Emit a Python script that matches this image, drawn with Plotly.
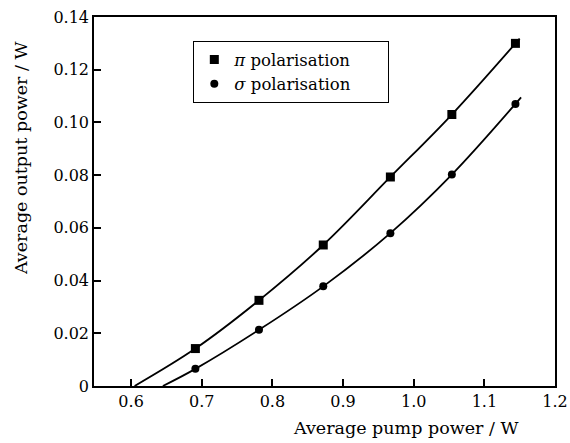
import plotly.graph_objects as go

# measured points
pump_pi = [0.691, 0.781, 0.872, 0.967, 1.054, 1.144]
out_pi = [0.0142, 0.0325, 0.0535, 0.0793, 0.1030, 0.1300]
pump_sigma = [0.691, 0.781, 0.872, 0.967, 1.054, 1.144]
out_sigma = [0.0065, 0.0213, 0.0378, 0.0580, 0.0802, 0.1070]

# fitted curves
fit_pi_x = [0.605, 0.691, 0.781, 0.872, 0.967, 1.054, 1.150]
fit_pi_y = [0.0, 0.0142, 0.0325, 0.0535, 0.0793, 0.1030, 0.1318]
fit_sigma_x = [0.645, 0.691, 0.781, 0.872, 0.967, 1.054, 1.152]
fit_sigma_y = [0.0, 0.0065, 0.0213, 0.0378, 0.0580, 0.0802, 0.1095]

x_ticks = [0.6, 0.7, 0.8, 0.9, 1.0, 1.1, 1.2]
x_labels = ["0.6", "0.7", "0.8", "0.9", "1.0", "1.1", "1.2"]
y_ticks = [0, 0.02, 0.04, 0.06, 0.08, 0.10, 0.12, 0.14]
y_labels = ["0", "0.02", "0.04", "0.06", "0.08", "0.10", "0.12", "0.14"]

series_names = ["<i>π</i> polarisation", "<i>σ</i> polarisation"]
PAD = "\u00a0" * 6

FONT = "DejaVu Serif, serif"

fig = go.Figure()
fig.add_trace(go.Scatter(x=fit_pi_x, y=fit_pi_y, mode="lines", line=dict(color="black", width=1.8, shape="spline"),
                         showlegend=False, hoverinfo="skip"))
fig.add_trace(go.Scatter(x=fit_sigma_x, y=fit_sigma_y, mode="lines", line=dict(color="black", width=1.8, shape="spline"),
                         showlegend=False, hoverinfo="skip"))
fig.add_trace(go.Scatter(x=pump_pi, y=out_pi, mode="markers", name=series_names[0] + PAD,
                         marker=dict(symbol="square", size=9, color="black")))
fig.add_trace(go.Scatter(x=pump_sigma, y=out_sigma, mode="markers", name=series_names[1] + PAD,
                         marker=dict(symbol="circle", size=8, color="black")))

fig.update_layout(
    width=570, height=443,
    margin=dict(l=94, r=15, t=17, b=57, autoexpand=False),
    paper_bgcolor="white", plot_bgcolor="white",
    font=dict(family=FONT, size=16, color="black"),
    legend=dict(x=0.215, y=0.935, xanchor="left", yanchor="top",
                bordercolor="black", borderwidth=1.2, bgcolor="white",
                font=dict(family=FONT, size=16.5), itemwidth=30, tracegroupgap=0),
    xaxis=dict(range=[0.5475, 1.2], tickvals=x_ticks, ticktext=x_labels, automargin=False,
               ticks="inside", ticklen=7, tickwidth=1.5, tickcolor="black",
               showline=True, linecolor="black", linewidth=1.5, mirror=True,
               showgrid=False, zeroline=False),
    yaxis=dict(range=[0, 0.14], tickvals=y_ticks, ticktext=y_labels, automargin=False,
               ticks="inside", ticklen=7, tickwidth=1.5, tickcolor="black",
               showline=True, linecolor="black", linewidth=1.5, mirror=True,
               showgrid=False, zeroline=False),
    annotations=[
        dict(text="Average pump power / W", xref="paper", yref="paper", x=1, y=0,
             xanchor="right", yanchor="middle", xshift=-35, yshift=-42, showarrow=False,
             font=dict(family=FONT, size=17.5)),
        dict(text="Average output power / W", xref="paper", yref="paper", x=0, y=0.615,
             xanchor="center", yanchor="middle", xshift=-73, textangle=-90, showarrow=False,
             font=dict(family=FONT, size=17.5)),
    ],
)

fig.write_html("out.html", config={"displayModeBar": False},
               post_script="document.body.style.margin='0';document.body.style.padding='0';document.body.style.overflow='hidden';")
